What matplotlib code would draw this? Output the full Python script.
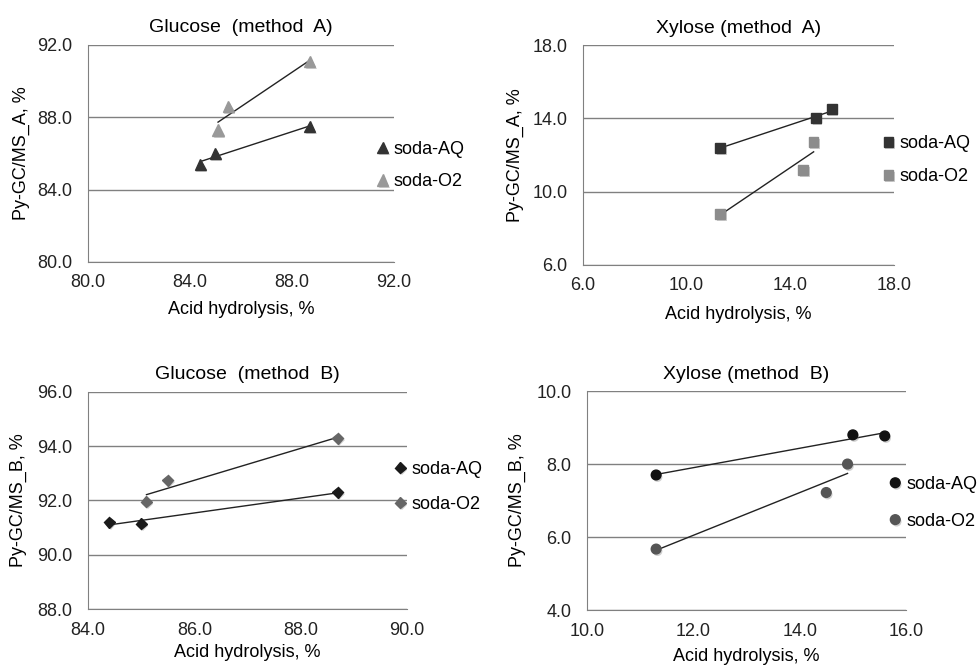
import matplotlib
matplotlib.use("Agg")
import matplotlib.pyplot as plt
import matplotlib.patheffects as pe
import numpy as np

plt.rcParams["font.family"] = ["Liberation Sans", "DejaVu Sans"]

# glucose, acid hydrolysis (x) for both methods
gluAQ_x = [84.4, 85.0, 88.7]
gluO2_x = [85.1, 85.5, 88.7]
# xylose, acid hydrolysis (x)
xylAQ_x = [11.3, 15.0, 15.6]
xylO2_x = [11.3, 14.5, 14.9]

gluA_AQ = [85.4, 86.0, 87.5]
gluA_O2 = [87.3, 88.6, 91.1]
xylA_AQ = [12.4, 14.0, 14.5]
xylA_O2 = [8.8, 11.2, 12.7]
gluB_AQ = [91.2, 91.15, 92.3]
gluB_O2 = [91.95, 92.75, 94.3]
xylB_AQ = [7.7, 8.8, 8.77]
xylB_O2 = [5.67, 7.22, 8.0]

paneles = [
    dict(titulo="Glucose  (method  A)", ylab="Py-GC/MS_A, %", xs=(gluAQ_x, gluO2_x), ys=(gluA_AQ, gluA_O2),
         xlim=(80, 92), ylim=(80, 92), xt=[80, 84, 88, 92], yt=[80, 84, 88, 92],
         marca="^", ms=8, cores=("#333333", "#999999"),
         pos=[0.0898, 0.6078, 0.3122, 0.3249], leg=(0.385, 0.752), ls=0.85, xpad=7),
    dict(titulo="Xylose (method  A)", ylab="Py-GC/MS_A, %", xs=(xylAQ_x, xylO2_x), ys=(xylA_AQ, xylA_O2),
         xlim=(6, 18), ylim=(6, 18), xt=[6, 10, 14, 18], yt=[6, 10, 14, 18],
         marca="s", ms=7, cores=("#333333", "#8c8c8c"),
         pos=[0.5949, 0.6033, 0.3173, 0.3293], leg=(0.901, 0.760), ls=0.9, xpad=8),
    dict(titulo="Glucose  (method  B)", ylab="Py-GC/MS_B, %", xs=(gluAQ_x, gluO2_x), ys=(gluB_AQ, gluB_O2),
         xlim=(84, 90), ylim=(88, 96), xt=[84, 86, 88, 90], yt=[88, 90, 92, 94, 96],
         marca="D", ms=5.5, cores=("#1a1a1a", "#666666"),
         pos=[0.0898, 0.0883, 0.3255, 0.3249], leg=(0.403, 0.271), ls=1.0, xpad=4),
    dict(titulo="Xylose (method  B)", ylab="Py-GC/MS_B, %", xs=(xylAQ_x, xylO2_x), ys=(xylB_AQ, xylB_O2),
         xlim=(10, 16), ylim=(4, 10), xt=[10, 12, 14, 16], yt=[4, 6, 8, 10],
         marca="o", ms=7, cores=("#111111", "#555555"),
         pos=[0.599, 0.0868, 0.3255, 0.3278], leg=(0.908, 0.247), ls=1.1, xpad=6),
]
nomes = ["soda-AQ", "soda-O2"]

fig = plt.figure(figsize=(9.8, 6.68), dpi=100)
sombra = [pe.SimplePatchShadow(offset=(1, -1.5), shadow_rgbFace="#777777", alpha=0.35), pe.Normal()]

for p in paneles:
    ax = fig.add_axes(p["pos"])
    handles = []
    for x, y, cor, nome in zip(p["xs"], p["ys"], p["cores"], nomes):
        # linha de tendencia (ajuste linear)
        a, b = np.polyfit(x, y, 1)
        xx = np.array([min(x), max(x)])
        ax.plot(xx, a * xx + b, color="#222222", lw=1, zorder=3)
        h, = ax.plot(x, y, linestyle="none", marker=p["marca"], ms=p["ms"], color=cor,
                     markeredgecolor=cor, label=nome, zorder=4, path_effects=sombra)
        handles.append(h)
    ax.set_xlim(p["xlim"])
    ax.set_ylim(p["ylim"])
    ax.set_xticks(p["xt"])
    ax.set_yticks(p["yt"])
    ax.set_xticklabels([f"{v:.1f}" for v in p["xt"]])
    ax.set_yticklabels([f"{v:.1f}" for v in p["yt"]])
    ax.tick_params(length=0, labelsize=13, colors="#222222")
    ax.tick_params(axis="y", pad=11)
    ax.tick_params(axis="x", pad=9)
    ax.yaxis.grid(True, color="#808080", lw=1)
    ax.set_axisbelow(True)
    for s in ["top", "right"]:
        ax.spines[s].set_visible(False)
    for s in ["left", "bottom"]:
        ax.spines[s].set_color("#808080")
    ax.set_title(p["titulo"], fontsize=14, pad=9)
    ax.set_xlabel("Acid hydrolysis, %", fontsize=13, labelpad=p["xpad"])
    ax.set_ylabel(p["ylab"], fontsize=13)
    ax.yaxis.set_label_coords(-0.19, 0.5)
    fig.legend(handles=handles, loc="center left", bbox_to_anchor=p["leg"], frameon=False,
               fontsize=13, handlelength=0.6, handletextpad=0.3, labelspacing=p["ls"],
               borderpad=0, borderaxespad=0)

fig.savefig("out.png", dpi=100)
